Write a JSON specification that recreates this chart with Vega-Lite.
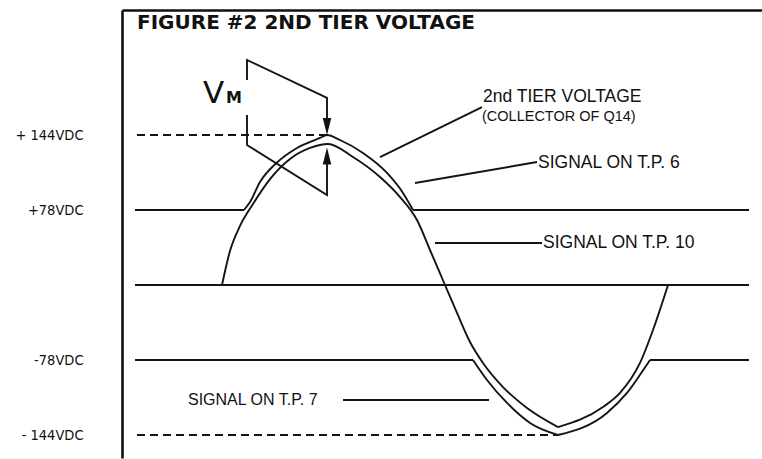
{
  "$schema": "https://vega.github.io/schema/vega-lite/v6.json",
  "width": 640,
  "height": 448,
  "autosize": {"type": "none"},
  "padding": {"left": 122, "top": 10, "right": 0, "bottom": 1},
  "background": "white",
  "config": {"view": {"stroke": null}},
  "datasets": {
    "curves": [
      {"s": "tp6", "t": 17.77, "v": 78},
      {"s": "tp6", "t": 22.62, "v": 85.0},
      {"s": "tp6", "t": 30.7, "v": 102.6},
      {"s": "tp6", "t": 44.43, "v": 119.8},
      {"s": "tp6", "t": 60.59, "v": 132.6},
      {"s": "tp6", "t": 79.17, "v": 141.4},
      {"s": "tp6", "t": 84.82, "v": 144},
      {"s": "tp6", "t": 95.32, "v": 139.6},
      {"s": "tp6", "t": 113.9, "v": 128.2},
      {"s": "tp6", "t": 133.29, "v": 110.6},
      {"s": "tp6", "t": 146.22, "v": 93.0},
      {"s": "tp6", "t": 154.29, "v": 78},
      {"s": "tp10a", "t": 0, "v": 0},
      {"s": "tp10a", "t": 6.46, "v": 35.4},
      {"s": "tp10a", "t": 14.54, "v": 61.4},
      {"s": "tp10a", "t": 25.04, "v": 83.3},
      {"s": "tp10a", "t": 38.78, "v": 105.2},
      {"s": "tp10a", "t": 54.93, "v": 122.9},
      {"s": "tp10a", "t": 71.09, "v": 132.6},
      {"s": "tp10a", "t": 85.63, "v": 136.1},
      {"s": "tp10a", "t": 105.82, "v": 124.6},
      {"s": "tp10a", "t": 127.64, "v": 107.0},
      {"s": "tp10a", "t": 143.79, "v": 89.4},
      {"s": "tp10a", "t": 157.52, "v": 67.6},
      {"s": "tp10a", "t": 168.03, "v": 36.4},
      {"s": "tp10a", "t": 180.14, "v": 0},
      {"s": "tp10a", "t": 189.84, "v": -29.1},
      {"s": "tp10a", "t": 200.34, "v": -59.3},
      {"s": "tp10a", "t": 210.84, "v": -80.6},
      {"s": "tp10a", "t": 227.0, "v": -101.8},
      {"s": "tp10a", "t": 246.39, "v": -120.2},
      {"s": "tp10a", "t": 271.43, "v": -137.0},
      {"s": "tp10b", "t": 271.43, "v": -137.0},
      {"s": "tp10b", "t": 307.78, "v": -119.4},
      {"s": "tp10b", "t": 321.51, "v": -107.0},
      {"s": "tp10b", "t": 337.67, "v": -80.6},
      {"s": "tp10b", "t": 348.17, "v": -46.8},
      {"s": "tp10b", "t": 360.29, "v": 0},
      {"s": "tp7a", "t": 202.76, "v": -78},
      {"s": "tp7a", "t": 214.07, "v": -95.6},
      {"s": "tp7a", "t": 230.23, "v": -115.8},
      {"s": "tp7a", "t": 248.81, "v": -133.4},
      {"s": "tp7a", "t": 271.43, "v": -144},
      {"s": "tp7b", "t": 271.43, "v": -144},
      {"s": "tp7b", "t": 311.01, "v": -124.6},
      {"s": "tp7b", "t": 327.17, "v": -107.0},
      {"s": "tp7b", "t": 344.13, "v": -80.6},
      {"s": "tp7b", "t": 345.75, "v": -78}
    ],
    "segs": [
      {"s": "zero", "o": 0, "t": -70.28, "v": 0},
      {"s": "zero", "o": 1, "t": 425.72, "v": 0},
      {"s": "p78a", "o": 0, "t": -70.28, "v": 78},
      {"s": "p78a", "o": 1, "t": 17.77, "v": 78},
      {"s": "p78b", "o": 0, "t": 154.29, "v": 78},
      {"s": "p78b", "o": 1, "t": 425.72, "v": 78},
      {"s": "m78a", "o": 0, "t": -70.28, "v": -78},
      {"s": "m78a", "o": 1, "t": 202.76, "v": -78},
      {"s": "m78b", "o": 0, "t": 345.75, "v": -78},
      {"s": "m78b", "o": 1, "t": 425.72, "v": -78},
      {"s": "vmUp", "o": 0, "t": 20.2, "v": 192.4},
      {"s": "vmUp", "o": 1, "t": 20.2, "v": 210.0},
      {"s": "vmUp", "o": 2, "t": 84.82, "v": 176.6},
      {"s": "vmUp", "o": 3, "t": 84.82, "v": 157.2},
      {"s": "vmLo", "o": 0, "t": 20.2, "v": 161.6},
      {"s": "vmLo", "o": 1, "t": 20.2, "v": 135.2},
      {"s": "vmLo", "o": 2, "t": 84.82, "v": 91.2},
      {"s": "vmLo", "o": 3, "t": 84.82, "v": 119.4},
      {"s": "lead2nd", "o": 0, "t": 127.64, "v": 124.6},
      {"s": "lead2nd", "o": 1, "t": 210.03, "v": 168.6},
      {"s": "lead6", "o": 0, "t": 155.91, "v": 101.8},
      {"s": "lead6", "o": 1, "t": 254.46, "v": 120.2},
      {"s": "lead10", "o": 0, "t": 172.07, "v": 43.7},
      {"s": "lead10", "o": 1, "t": 258.5, "v": 43.7},
      {"s": "lead7", "o": 0, "t": 97.75, "v": -113.2},
      {"s": "lead7", "o": 1, "t": 215.69, "v": -113.2}
    ],
    "dashes": [
      {"s": "p144", "t": -68.66, "v": 144},
      {"s": "p144", "t": 84.82, "v": 144},
      {"s": "m144", "t": -68.66, "v": -144},
      {"s": "m144", "t": 271.43, "v": -144}
    ],
    "arrows": [
      {"dir": "down", "t": 84.82, "v": 151.5},
      {"dir": "up", "t": 84.82, "v": 125.5}
    ],
    "title": [
      {"label": "FIGURE #2 2ND TIER VOLTAGE", "t": -68.66, "v": 242.6}
    ],
    "callouts": [
      {"label": "2nd TIER VOLTAGE", "t": 210.84, "v": 177.4},
      {"label": "SIGNAL ON T.P. 6", "t": 255.27, "v": 119.4},
      {"label": "SIGNAL ON T.P. 10", "t": 259.31, "v": 43.7}
    ],
    "callout7": [
      {"label": "SIGNAL ON T.P. 7", "t": -27.47, "v": -113.2}
    ],
    "collector": [
      {"label": "(COLLECTOR OF Q14)", "t": 210.03, "v": 159.8}
    ],
    "vbig": [
      {"label": "V", "t": -15.35, "v": 172.2}
    ],
    "msub": [
      {"label": "M", "t": 3.2, "v": 172.2}
    ]
  },
  "encoding": {
    "x": {
      "field": "t",
      "type": "quantitative",
      "scale": {"domain": [-80.78, 436.22], "nice": false, "zero": false},
      "axis": {
        "orient": "top",
        "labels": false,
        "ticks": false,
        "grid": false,
        "title": null,
        "values": [],
        "domainColor": "#111111",
        "domainWidth": 2.6
      }
    },
    "y": {
      "field": "v",
      "type": "quantitative",
      "scale": {
        "domain": [-164.24, -144, -78, 0, 78, 144, 254],
        "range": [448, 425, 350, 275, 200, 125, 0],
        "nice": false,
        "zero": false
      },
      "axis": {
        "values": [-144, -78, 78, 144],
        "labelExpr": "datum.value == 144 ? '+ 144VDC' : datum.value == 78 ? '+78VDC' : datum.value == -78 ? '-78VDC' : '- 144VDC'",
        "ticks": false,
        "tickSize": 0,
        "grid": false,
        "title": null,
        "domainColor": "#111111",
        "domainWidth": 2.6,
        "labelPadding": 39,
        "labelFont": "DejaVu Sans Condensed",
        "labelFontSize": 14.5,
        "labelColor": "#111111"
      }
    }
  },
  "layer": [
    {
      "data": {"name": "curves"},
      "mark": {"type": "line", "interpolate": "monotone", "color": "#141414", "strokeWidth": 1.9},
      "encoding": {"detail": {"field": "s", "type": "nominal"}}
    },
    {
      "data": {"name": "segs"},
      "mark": {"type": "line", "color": "#141414", "strokeWidth": 1.9},
      "encoding": {
        "detail": {"field": "s", "type": "nominal"},
        "order": {"field": "o", "type": "quantitative"}
      }
    },
    {
      "data": {"name": "dashes"},
      "mark": {"type": "line", "color": "#141414", "strokeWidth": 1.9, "strokeDash": [8, 5]},
      "encoding": {"detail": {"field": "s", "type": "nominal"}}
    },
    {
      "data": {"name": "arrows"},
      "mark": {"type": "point", "filled": true, "opacity": 1, "size": 289, "color": "#111111"},
      "encoding": {
        "shape": {
          "field": "dir",
          "type": "nominal",
          "scale": {"domain": ["down", "up"], "range": ["M-0.5,-1L0.5,-1L0,1Z", "M-0.5,1L0.5,1L0,-1Z"]},
          "legend": null
        }
      }
    },
    {
      "data": {"name": "title"},
      "mark": {"type": "text", "align": "left", "baseline": "middle", "font": "DejaVu Sans", "fontWeight": "bold", "fontSize": 20, "color": "#111111"},
      "encoding": {"text": {"field": "label"}}
    },
    {
      "data": {"name": "callouts"},
      "mark": {"type": "text", "align": "left", "baseline": "middle", "font": "Liberation Sans", "fontSize": 17.5, "color": "#111111"},
      "encoding": {"text": {"field": "label"}}
    },
    {
      "data": {"name": "callout7"},
      "mark": {"type": "text", "align": "left", "baseline": "middle", "font": "Liberation Sans", "fontSize": 16, "color": "#111111"},
      "encoding": {"text": {"field": "label"}}
    },
    {
      "data": {"name": "collector"},
      "mark": {"type": "text", "align": "left", "baseline": "middle", "font": "Liberation Sans", "fontSize": 14.5, "color": "#111111"},
      "encoding": {"text": {"field": "label"}}
    },
    {
      "data": {"name": "vbig"},
      "mark": {"type": "text", "align": "left", "baseline": "alphabetic", "font": "DejaVu Sans", "fontSize": 31, "color": "#111111"},
      "encoding": {"text": {"field": "label"}}
    },
    {
      "data": {"name": "msub"},
      "mark": {"type": "text", "align": "left", "baseline": "alphabetic", "font": "DejaVu Sans", "fontWeight": "bold", "fontSize": 16, "color": "#111111"},
      "encoding": {"text": {"field": "label"}}
    }
  ]
}
